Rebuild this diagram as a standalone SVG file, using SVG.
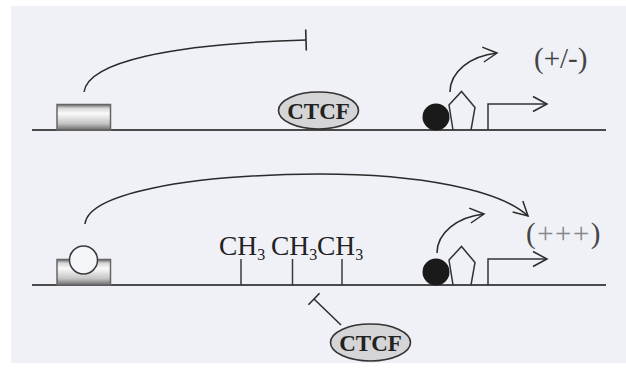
<svg xmlns="http://www.w3.org/2000/svg" width="626" height="375" viewBox="0 0 626 375">
  <defs>
    <style>
      .dna { stroke: #4a4a4a; stroke-width: 2.2; fill: none; }
      .link { stroke: #2a2a2a; stroke-width: 1.5; fill: none; }
      .shape { stroke: #333; stroke-width: 1.5; fill: none; }
      .ctcf-body { fill: #d5d5d7; stroke: #333; stroke-width: 1.6; }
      .ctcf-label { font-family: "Liberation Serif", "Times New Roman", serif; font-weight: bold; font-size: 23px; fill: #222; text-anchor: middle; }
      .level { font-family: "Liberation Serif", "Times New Roman", serif; font-size: 29px; fill: #444; }
      .methyl { font-family: "Liberation Serif", "Times New Roman", serif; font-size: 27.5px; fill: #222; }
      .tick { stroke: #3a3a3a; stroke-width: 1.5; }
    </style>
    <linearGradient id="barrel" x1="0" y1="0" x2="0" y2="1">
      <stop offset="0" stop-color="#6e6e6e"/>
      <stop offset="0.15" stop-color="#d8d8d8"/>
      <stop offset="0.35" stop-color="#fafafa"/>
      <stop offset="0.75" stop-color="#c4c4c4"/>
      <stop offset="1" stop-color="#6a6a6a"/>
    </linearGradient>
    <marker id="arrow" viewBox="-16 -9 18 18" refX="0" refY="0" markerWidth="18" markerHeight="18" markerUnits="userSpaceOnUse" orient="auto">
      <path d="M-14,-7.5 L0,0 L-14,7.5" fill="none" stroke="#2a2a2a" stroke-width="1.5"/>
    </marker>
    <marker id="bar" viewBox="-2 -12 4 24" refX="0" refY="0" markerWidth="4" markerHeight="24" markerUnits="userSpaceOnUse" orient="auto">
      <path d="M0,-10.5 L0,10.5" stroke="#2a2a2a" stroke-width="1.6"/>
    </marker>
    <marker id="bar-short" viewBox="-2 -12 4 24" refX="0" refY="0" markerWidth="4" markerHeight="24" markerUnits="userSpaceOnUse" orient="auto">
      <path d="M0,-8 L0,8" stroke="#2a2a2a" stroke-width="1.6"/>
    </marker>
  </defs>

  <!-- backdrop -->
  <rect x="0" y="0" width="626" height="375" fill="#ffffff"/>
  <rect x="11" y="6" width="615" height="357" fill="#eff1f7"/>

  <!-- DNA strands -->
  <line class="dna" x1="32" y1="130" x2="606" y2="130"/>
  <line class="dna" x1="32" y1="285" x2="606" y2="285"/>

  <!-- top row: enhancer -->
  <g id="enhancer-top">
    <rect x="57" y="104.5" width="53.5" height="25.5" fill="url(#barrel)" stroke="#666" stroke-width="1.5"/>
  </g>

  <!-- top row: CTCF bound -->
  <g id="ctcf-top">
    <ellipse class="ctcf-body" cx="318.5" cy="110.5" rx="40" ry="18.5"/>
    <text class="ctcf-label" x="318.5" y="118.5">CTCF</text>
  </g>

  <!-- top row: promoter -->
  <g id="promoter-top">
    <circle cx="436" cy="117" r="13.5" fill="#1a1a1a"/>
    <polyline class="shape" points="453,130 449,105 461.5,91.5 475,107.5 471,130"/>
  </g>

  <g id="tss-top">
    <polyline class="shape" points="488,130 488,104 547,104" marker-end="url(#arrow)"/>
  </g>

  <g id="level-top">
    <text class="level" x="534" y="68">(+/-)</text>
  </g>

  <!-- bottom row: enhancer with bound factor -->
  <g id="enhancer-bottom">
    <rect x="57" y="259.5" width="53.5" height="25.5" fill="url(#barrel)" stroke="#666" stroke-width="1.5"/>
    <circle cx="83.5" cy="260" r="14" fill="#f4f5f9" stroke="#3a3a3a" stroke-width="1.5"/>
  </g>

  <!-- bottom row: methyl groups -->
  <g id="methylation">
    <line class="tick" x1="241" y1="259" x2="241" y2="285"/>
    <line class="tick" x1="292.5" y1="259" x2="292.5" y2="285"/>
    <line class="tick" x1="342" y1="259" x2="342" y2="285"/>
    <text class="methyl" x="219" y="254.5">CH<tspan font-size="16" dy="5">3</tspan></text>
    <text class="methyl" x="271" y="254.5">CH<tspan font-size="16" dy="5">3</tspan></text>
    <text class="methyl" x="317" y="254.5">CH<tspan font-size="16" dy="5">3</tspan></text>
  </g>

  <!-- bottom row: promoter -->
  <g id="promoter-bottom">
    <circle cx="436" cy="272" r="13.5" fill="#1a1a1a"/>
    <polyline class="shape" points="453,285 449,260 461.5,246.5 475,262.5 471,285"/>
  </g>

  <g id="tss-bottom">
    <polyline class="shape" points="488,285 488,259 547,259" marker-end="url(#arrow)"/>
  </g>

  <g id="level-bottom">
    <text class="level" x="526" y="243" letter-spacing="1.5">(<tspan fill="#888">+++</tspan>)</text>
  </g>

  <!-- bottom row: CTCF displaced -->
  <g id="ctcf-bottom">
    <ellipse class="ctcf-body" cx="370.5" cy="342.5" rx="40" ry="18.5"/>
    <text class="ctcf-label" x="370.5" y="350.5">CTCF</text>
  </g>

  <!-- connectors -->
  <g id="connectors">
    <path class="link" d="M84,92 C88,62 170,44 306,40" marker-end="url(#bar)"/>
    <path class="link" d="M450,92 C450,72 470,56 497,53" marker-end="url(#arrow)"/>
    <path class="link" d="M85,224 C88,195 180,175 320,174 C420,174 500,190 528,216" marker-end="url(#arrow)"/>
    <path class="link" d="M437,253 C437,233 457,217 484,214" marker-end="url(#arrow)"/>
    <path class="link" d="M341,325 L314,299" marker-end="url(#bar-short)"/>
  </g>
</svg>
